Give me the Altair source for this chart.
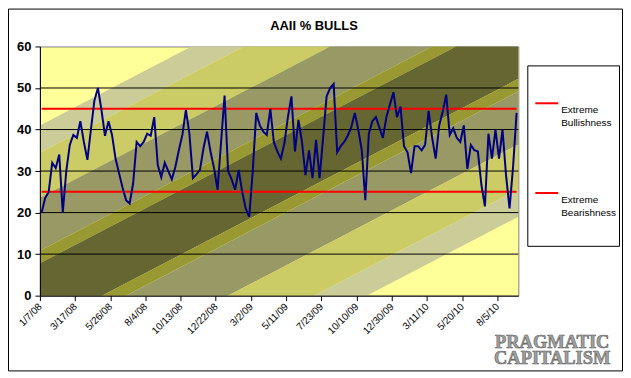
import altair as alt
import pandas as pd

# ---- data (weekly AAII % bulls, 136 weeks) ----
bulls = [
    20, 23.5, 25, 32, 30.7, 34, 20, 30, 36.3, 38.7,
    38, 42, 37, 32.7, 40, 47, 50, 44.7, 38.5, 42,
    38.7, 33, 29.5, 26, 23, 22.2, 27, 37, 36, 37,
    39, 38.5, 43, 31.5, 28.5, 32, 30, 28, 31, 35,
    38.7, 44.7, 39, 28.3, 29.2, 30.3, 35.5, 39.5, 34.7, 30.7,
    25.5, 37, 48.2, 30, 28, 25.5, 30.3, 25, 21, 19,
    30, 44, 41, 39.5, 38.7, 45, 37, 34.7, 33, 36.7,
    43, 48, 34.7, 42.3, 37, 29, 35, 28.3, 37.5, 28.3,
    38, 48, 50, 51, 34.5, 36, 37, 38.5, 40.5, 44,
    40, 35, 23, 39, 42, 43, 40.5, 38, 43, 46,
    49, 43, 45.5, 36, 34.5, 29.5, 36, 36, 35, 36.3,
    44.5, 38, 33, 41, 44.3, 48.4, 38.7, 40.3, 38, 37,
    41, 30.5, 36.3, 35, 34.7, 26.7, 21.5, 39, 33, 40,
    33, 40, 29, 21, 31, 44,
]
date_labels = ["1/7/08", "3/17/08", "5/26/08", "8/4/08", "10/13/08", "12/22/08",
               "3/2/09", "5/11/09", "7/23/09", "10/10/09", "12/30/09", "3/11/10",
               "5/20/10", "8/5/10"]
label_every = 10
y_ticks = [0, 10, 20, 30, 40, 50, 60]
grid_levels = [10, 20, 30, 40, 50]
extreme_levels = [45, 25]
legend_labels = ["Extreme Bullishness", "Extreme Bearishness"]
title_text = "AAII % BULLS"
watermark_text = "PRAGMATIC CAPITALISM"

# background stripes: offsets (in % units) from the plot diagonal
band_offsets = [41.0, 34.4, 23.6, 10.8, 7.8]
band_colors = ["#CCCC99", "#CCCC66", "#999966", "#999933", "#666633"]

n = len(bulls)
y_max = y_ticks[-1]

line_df = pd.DataFrame({"pos": [i + 0.5 for i in range(n)], "bulls": bulls})
levels_df = pd.DataFrame({"level": extreme_levels, "start": 0.5, "end": n - 0.5})
grid_df = pd.DataFrame({"level": grid_levels})

edges = band_offsets + [-o for o in reversed(band_offsets)]
colors = band_colors + band_colors[-2::-1]
rows = []
for j in range(len(colors)):
    for u in (0, n):
        rows.append({"band": j, "u": u,
                     "hi": edges[j] + y_max * u / n,
                     "lo": edges[j + 1] + y_max * u / n,
                     "color": colors[j]})
band_df = pd.DataFrame(rows)

x_scale = alt.Scale(domain=[0, n], nice=False, zero=False)
y_scale = alt.Scale(domain=[0, y_max], nice=False)

label_expr = "[" + ",".join(f"'{s}'" for s in date_labels) + f"][round(datum.value/{label_every})]"
FONT = "Liberation Sans"

x_axis = alt.Axis(values=list(range(0, n, label_every))[:len(date_labels)],
                  labelExpr=label_expr, labelAngle=315, labelAlign="right",
                  labelBaseline="middle", labelFontSize=10, labelFont=FONT,
                  labelColor="black", labelPadding=4, tickSize=5, tickColor="black",
                  domainColor="black", grid=False, title=None, labelOverlap=False,
                  labelFlush=False, zindex=1)
y_axis = alt.Axis(values=y_ticks, labelFontSize=13, labelFontWeight="bold", labelFont=FONT,
                  labelColor="black", labelPadding=4, tickSize=5, tickColor="black",
                  domainColor="black", grid=False, title=None, labelFlush=False, zindex=1)

bands = alt.Chart(band_df).mark_area(clip=True).encode(
    x=alt.X("u:Q", scale=x_scale, axis=x_axis),
    y=alt.Y("lo:Q", scale=y_scale, axis=y_axis),
    y2="hi:Q",
    color=alt.Color("color:N", scale=None),
    detail="band:N",
)
grid = alt.Chart(grid_df).mark_rule(color="black", strokeWidth=1).encode(
    y=alt.Y("level:Q", scale=y_scale, axis=y_axis))
extremes = alt.Chart(levels_df).mark_rule(color="#FF0000", strokeWidth=2).encode(
    x=alt.X("start:Q", scale=x_scale, axis=x_axis), x2="end:Q",
    y=alt.Y("level:Q", scale=y_scale, axis=y_axis))
line = alt.Chart(line_df).mark_line(color="#000080", strokeWidth=2).encode(
    x=alt.X("pos:Q", scale=x_scale, axis=x_axis),
    y=alt.Y("bulls:Q", scale=y_scale, axis=y_axis))

one = pd.DataFrame({"k": [0]})
border = alt.Chart(one).mark_rect(filled=False, stroke="black", strokeWidth=1).encode(
    x=alt.value(-31.5), x2=alt.value(584.5), y=alt.value(-37.5), y2=alt.value(325.5))
title = alt.Chart(pd.DataFrame({"t": [title_text]})).mark_text(
    align="center", baseline="alphabetic", font=FONT, fontSize=13, fontWeight="bold",
    color="black").encode(text="t:N", x=alt.value(275), y=alt.value(-17))
legend_box = alt.Chart(one).mark_rect(fill="white", stroke="black", strokeWidth=1).encode(
    x=alt.value(489.5), x2=alt.value(581.5), y=alt.value(19.5), y2=alt.value(200.5))

legend_layers = []
for lab, ysym in zip(legend_labels, [57, 147]):
    legend_layers.append(alt.Chart(one).mark_rule(color="#FF0000", strokeWidth=2).encode(
        x=alt.value(497), x2=alt.value(520), y=alt.value(ysym)))
    legend_layers.append(alt.Chart(pd.DataFrame({"label": [lab]})).mark_text(
        align="left", baseline="middle", lineBreak=" ", lineHeight=13.5,
        fontSize=10, font=FONT, color="black").encode(
        text="label:N", x=alt.value(523), y=alt.value(ysym + 6.75)))

watermark = alt.Chart(pd.DataFrame({"t": [watermark_text]})).mark_text(
    align="center", baseline="middle", lineBreak=" ", lineHeight=15.5,
    font="Liberation Serif", fontSize=18.5, fontWeight="bold",
    color="#a0a0a0", stroke="#606060", strokeWidth=0.6).encode(
    text="t:N", x=alt.value(514), y=alt.value(296.7))

chart = alt.layer(bands, grid, extremes, line, border, title, legend_box,
                  *legend_layers, watermark).properties(
    width=480, height=250,
    padding={"left": 32, "top": 38, "right": 105, "bottom": 76},
    autosize=alt.AutoSizeParams(type="none"),
    background="white",
).configure_view(stroke="#808080", fill="#FFFF99")

chart.save("out.html", embed_options={"renderer": "svg", "actions": False})
